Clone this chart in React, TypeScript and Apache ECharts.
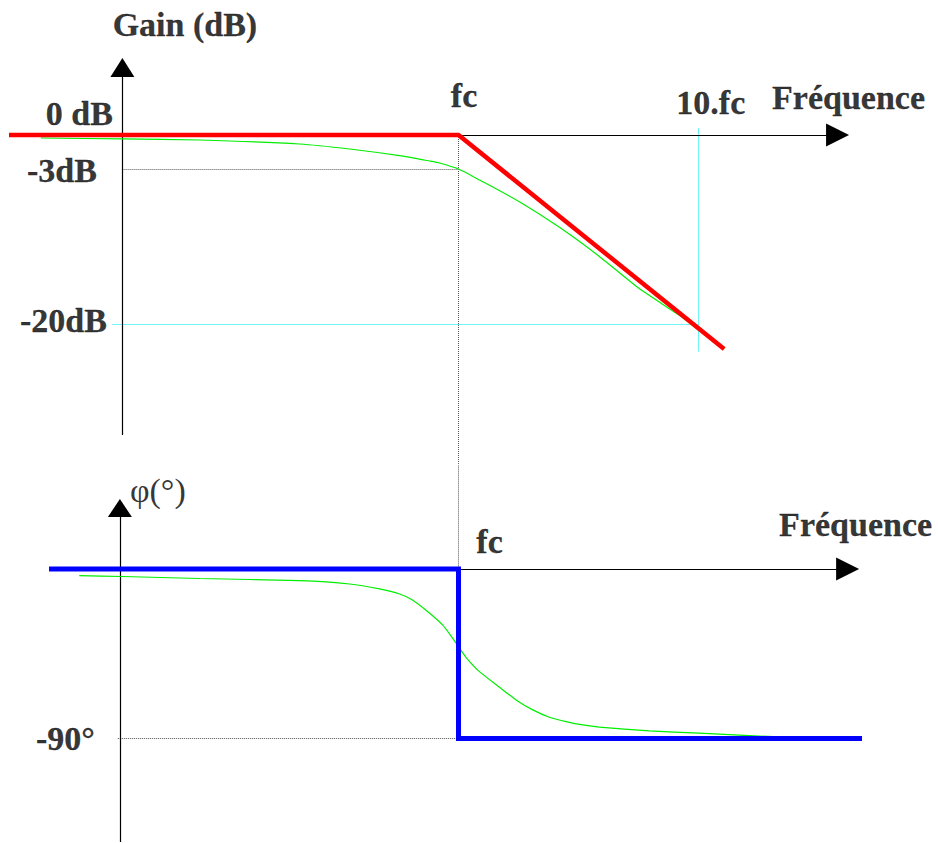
import React, { useEffect, useRef } from 'react';
import * as echarts from 'echarts';

// Frequency is expressed in decades relative to fc: x = log10(f / fc)
const freqTickValues = [0, 1];
const freqTickLabels = ['fc', '10.fc'];

// Gain tick marks (dB) as drawn in the picture (the -3dB guide sits at ≈ -3.6 on the drawn scale)
const gainTickValues = [0, -3.6, -20];
const gainTickLabels = ['0 dB', '-3dB', '-20dB'];

// Phase tick marks (degrees)
const phaseTickValues = [-90];
const phaseTickLabels = ['-90°'];

const gainAxisName = 'Gain (dB)';
const phaseAxisName = 'φ(°)';
const freqAxisName = 'Fréquence';

// Gain asymptote (red)
const gainAsymptoteX = [-1.875, 0, 1.108];
const gainAsymptoteY = [0, 0, -22.65];

// Real gain curve (green)
const gainCurveX = [-1.742, -1.404, -1.079, -0.6625, -0.454, -0.246, -0.121, -0.079, 0, 0.0875, 0.254, 0.421, 0.5875, 0.754, 0.921, 1.004, 1.108];
const gainCurveY = [-0.32, -0.42, -0.53, -0.95, -1.48, -2.19, -2.75, -2.96, -3.6, -4.76, -7.06, -9.77, -12.85, -16.25, -19.08, -20.68, -22.65];

// Phase asymptote (blue)
const phaseAsymptoteX = [-1.708, 0, 0, 1.683];
const phaseAsymptoteY = [0, 0, -90, -90];

// Real phase curve (green)
const phaseCurveX = [-1.582, -1.404, -1.079, -0.6625, -0.454, -0.329, -0.2458, -0.192, -0.1278, -0.0667, -0.024, 0, 0.032, 0.0875, 0.171, 0.24, 0.31, 0.379, 0.449, 0.518, 0.5875, 0.796, 1.004, 1.254, 1.421, 1.642];
const phaseCurveY = [-3.56, -3.98, -5.04, -6.21, -7.96, -10.6, -13.3, -16.46, -22.7, -29.7, -36.8, -41.3, -47.0, -54.5, -62.8, -69.5, -74.8, -78.7, -81.0, -82.8, -84.0, -86.0, -87.2, -88.7, -89.6, -89.6];

// ---- layout (pixels) ----
const FC_PX = 459;
const PX_PER_DEC = 240;
const X_MIN = -1.9;
const X_MAX = 2.0;
const ZERO_DB_PX = 135;
const PX_PER_DB = 9.45;
const GAIN_MAX = 10;
const GAIN_MIN = -34.8;
const ZERO_DEG_PX = 569;
const PX_PER_DEG = 1.8833;
const PHASE_MAX = 55;
const PHASE_MIN = -145.2;

// axis extents in data units
const TOP_X_AXIS = [-1.875, 1.581];
const TOP_Y_AXIS_X = -1.402;
const TOP_Y_AXIS = [-31.75, 7.14];
const BOT_Y_AXIS_X = -1.4125;
const BOT_X_AXIS = [-1.4125, 1.623];
const BOT_Y_AXIS = [-144.96, 32.39];
const CYAN_H = [-1.446, 1.0];
const CYAN_V = [0.74, -22.93];
const NEG90_START = -1.421;

const FONT = "'Liberation Serif', 'Times New Roman', Times, serif";

const zip = (xs: number[], ys: number[]) => xs.map((x, i) => [x, ys[i]]);

const axisStyle = { color: '#000', width: 1.2, type: 'solid' };
const dotStyle = { color: '#555', width: 1, type: [1, 1] };
const cyanStyle = { color: '#70f4f4', width: 1, type: 'solid' };

function seg(a: number[], b: number[], style: any, arrow?: number[]) {
  return [
    { coord: a, symbol: 'none', lineStyle: style },
    arrow ? { coord: b, symbol: 'triangle', symbolSize: arrow } : { coord: b, symbol: 'none' },
  ];
}

function lbl(name: string, value: number[], offset: number[], align: string, extra: any = {}) {
  return {
    name,
    value,
    label: {
      show: true,
      position: 'inside',
      offset,
      align,
      verticalAlign: 'middle',
      formatter: '{b}',
      fontFamily: FONT,
      fontWeight: 'bold',
      fontSize: 34,
      color: '#000',
      textBorderColor: '#000',
      textBorderWidth: 0.3,
      ...extra,
    },
  };
}

export default function App() {
  const ref = useRef<HTMLDivElement>(null);
  useEffect(() => {
    const chart = echarts.init(ref.current!, null, { renderer: 'svg' });
    const gridLeft = FC_PX + X_MIN * PX_PER_DEC;
    const gridWidth = (X_MAX - X_MIN) * PX_PER_DEC;

    const gainTickOffsets = [[-9.5, -21.5], [-25.5, 1], [-15.5, -4]];
    const freqTopOffsets = [[5.5, -39.5], [12.5, -33]];

    const topLabels = [
      ...gainTickLabels.map((t, i) => lbl(t, [TOP_Y_AXIS_X, gainTickValues[i]], gainTickOffsets[i], 'right')),
      ...freqTickLabels.map((t, i) => lbl(t, [freqTickValues[i], 0], freqTopOffsets[i], 'center')),
      lbl(gainAxisName, [TOP_Y_AXIS_X, TOP_Y_AXIS[1]], [62.5, -43.5], 'center'),
      lbl(freqAxisName, [TOP_X_AXIS[1], 0], [-65.5, -38], 'left'),
    ];
    const botLabels = [
      lbl(freqTickLabels[0], [freqTickValues[0], 0], [31, -28], 'center'),
      ...phaseTickLabels.map((t, i) => lbl(t, [BOT_Y_AXIS_X, phaseTickValues[i]], [-25, 0.5], 'right')),
      lbl(phaseAxisName, [BOT_Y_AXIS_X, BOT_Y_AXIS[1]], [10, -17], 'left', { fontWeight: 'normal', fontSize: 34, textBorderWidth: 0 }),
      lbl(freqAxisName, [BOT_X_AXIS[1], 0], [-68.5, -45], 'left'),
    ];

    const markBase = {
      silent: true,
      z: 1,
      symbol: 'none',
      label: { show: false },
      emphasis: { disabled: true },
      lineStyle: { type: 'solid' },
    };

    const option: any = {
      animation: false,
      backgroundColor: '#fff',
      grid: [
        {
          left: gridLeft,
          width: gridWidth,
          top: ZERO_DB_PX - GAIN_MAX * PX_PER_DB,
          height: (GAIN_MAX - GAIN_MIN) * PX_PER_DB,
        },
        {
          left: gridLeft,
          width: gridWidth,
          top: ZERO_DEG_PX - PHASE_MAX * PX_PER_DEG,
          height: (PHASE_MAX - PHASE_MIN) * PX_PER_DEG,
        },
      ],
      xAxis: [
        { type: 'value', gridIndex: 0, min: X_MIN, max: X_MAX, show: false },
        { type: 'value', gridIndex: 1, min: X_MIN, max: X_MAX, show: false },
      ],
      yAxis: [
        { type: 'value', gridIndex: 0, min: GAIN_MIN, max: GAIN_MAX, show: false },
        { type: 'value', gridIndex: 1, min: PHASE_MIN, max: PHASE_MAX, show: false },
      ],
      series: [
        {
          name: 'gainFrame',
          type: 'line',
          xAxisIndex: 0,
          yAxisIndex: 0,
          data: [],
          silent: true,
          markLine: {
            ...markBase,
            data: [
              seg([CYAN_H[0], -20], [CYAN_H[1], -20], cyanStyle),
              seg([1, CYAN_V[0]], [1, CYAN_V[1]], cyanStyle),
              seg([TOP_Y_AXIS_X, gainTickValues[1]], [0, gainTickValues[1]], dotStyle),
              seg([0, 0], [0, GAIN_MIN], dotStyle),
              seg([TOP_X_AXIS[0], 0], [TOP_X_AXIS[1], 0], axisStyle, [23, 23]),
              seg([TOP_Y_AXIS_X, TOP_Y_AXIS[0]], [TOP_Y_AXIS_X, TOP_Y_AXIS[1]], axisStyle, [24, 19]),
            ],
          },
        },
        {
          name: 'gainReal',
          type: 'line',
          xAxisIndex: 0,
          yAxisIndex: 0,
          data: zip(gainCurveX, gainCurveY),
          showSymbol: false,
          symbol: 'none',
          smooth: 0.2,
          clip: false,
          z: 3,
          lineStyle: { color: '#00ee00', width: 1.2 },
          silent: true,
        },
        {
          name: 'gainAsymptote',
          type: 'line',
          xAxisIndex: 0,
          yAxisIndex: 0,
          data: zip(gainAsymptoteX, gainAsymptoteY),
          showSymbol: false,
          symbol: 'none',
          clip: false,
          z: 4,
          lineStyle: { color: '#ff0000', width: 4.5, cap: 'butt', join: 'miter' },
          silent: true,
        },
        {
          name: 'topLabels',
          type: 'scatter',
          xAxisIndex: 0,
          yAxisIndex: 0,
          symbolSize: 1,
          itemStyle: { color: 'rgba(0,0,0,0)' },
          clip: false,
          silent: true,
          z: 6,
          data: topLabels,
        },
        {
          name: 'phaseFrame',
          type: 'line',
          xAxisIndex: 1,
          yAxisIndex: 1,
          data: [],
          silent: true,
          markLine: {
            ...markBase,
            data: [
              seg([NEG90_START, -90], [0, -90], dotStyle),
              seg([0, PHASE_MAX], [0, 0], dotStyle),
              seg([BOT_X_AXIS[0], 0], [BOT_X_AXIS[1], 0], axisStyle, [23, 23]),
              seg([BOT_Y_AXIS_X, BOT_Y_AXIS[0]], [BOT_Y_AXIS_X, BOT_Y_AXIS[1]], axisStyle, [24, 18]),
            ],
          },
        },
        {
          name: 'phaseReal',
          type: 'line',
          xAxisIndex: 1,
          yAxisIndex: 1,
          data: zip(phaseCurveX, phaseCurveY),
          showSymbol: false,
          symbol: 'none',
          smooth: 0.2,
          clip: false,
          z: 3,
          lineStyle: { color: '#00ee00', width: 1.2 },
          silent: true,
        },
        {
          name: 'phaseAsymptote',
          type: 'line',
          xAxisIndex: 1,
          yAxisIndex: 1,
          data: zip(phaseAsymptoteX, phaseAsymptoteY),
          showSymbol: false,
          symbol: 'none',
          clip: false,
          z: 4,
          lineStyle: { color: '#0000ff', width: 5, cap: 'butt', join: 'miter' },
          silent: true,
        },
        {
          name: 'bottomLabels',
          type: 'scatter',
          xAxisIndex: 1,
          yAxisIndex: 1,
          symbolSize: 1,
          itemStyle: { color: 'rgba(0,0,0,0)' },
          clip: false,
          silent: true,
          z: 6,
          data: botLabels,
        },
      ],
    };
    chart.setOption(option);
    return () => chart.dispose();
  }, []);
  return (
    <div
      ref={ref}
      style={{ position: 'fixed', left: 0, top: 0, width: 938, height: 843, background: '#fff' }}
    />
  );
}
